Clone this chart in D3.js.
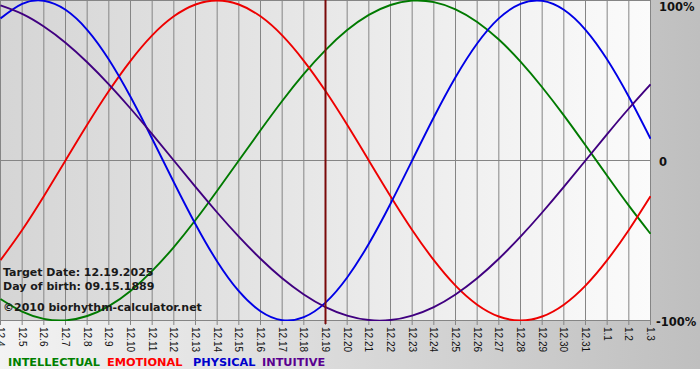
<!DOCTYPE html>
<html>
<head>
<meta charset="utf-8">
<script src="https://cdn.jsdelivr.net/npm/d3@7"></script>
<style>
  body { margin: 0; background: #fff; }
  svg { display: block; }
</style>
</head>
<body>
<script>
// day labels along the bottom (12.4 -> 1.3)
const dayLabels = ["12.4","12.5","12.6","12.7","12.8","12.9","12.10","12.11","12.12","12.13",
  "12.14","12.15","12.16","12.17","12.18","12.19","12.20","12.21","12.22","12.23","12.24",
  "12.25","12.26","12.27","12.28","12.29","12.30","12.31","1.1","1.2","1.3"];

// cycle values per day (-1 .. 1)
const physical = [0.888,0.979,0.998,0.942,0.817,0.631,0.398,0.136,-0.136,-0.398,-0.631,
  -0.817,-0.942,-0.998,-0.979,-0.888,-0.731,-0.520,-0.270,0,0.270,0.520,0.731,0.888,
  0.979,0.998,0.942,0.817,0.631,0.398,0.136];
const emotional = [-0.623,-0.434,-0.223,0,0.223,0.434,0.623,0.782,0.901,0.975,1,
  0.975,0.901,0.782,0.623,0.434,0.223,0,-0.223,-0.434,-0.623,-0.782,-0.901,-0.975,
  -1,-0.975,-0.901,-0.782,-0.623,-0.434,-0.223];
const intellectual = [-0.866,-0.945,-0.990,-0.999,-0.972,-0.910,-0.815,-0.690,-0.541,
  -0.372,-0.189,0,0.189,0.372,0.541,0.690,0.815,0.910,0.972,0.999,0.990,0.945,0.866,
  0.756,0.618,0.458,0.282,0.095,-0.095,-0.282,-0.458];
const intuitive = [0.969,0.916,0.837,0.736,0.614,0.476,0.325,0.165,0,-0.165,-0.325,
  -0.476,-0.614,-0.736,-0.837,-0.916,-0.969,-0.997,-0.997,-0.969,-0.916,-0.837,-0.736,
  -0.614,-0.476,-0.325,-0.165,0,0.165,0.325,0.476];

const targetDay = 15; // 12.19
const infoLines = ["Target Date: 12.19.2025", "Day of birth: 09.15.1889", "\u00a92010 biorhythm-calculator.net"];

// legend entries
const legendNames = ["INTELLECTUAL", "EMOTIONAL", "PHYSICAL", "INTUITIVE"];
const legendColors = ["#008000", "#ff0000", "#0000cc", "#5a0090"];

var svg_width = 700;
var svg_height = 380;
var plot_w = 650;
var plot_h = 320;

const svg = d3.select("body")
    .append("svg")
    .attr("width", svg_width)
    .attr("height", svg_height);

const defs = svg.append("defs");

// outer background gradient (light left -> grey right)
const outerGrad = defs.append("linearGradient").attr("id", "outerGrad");
outerGrad.append("stop").attr("offset", "0%").attr("stop-color", "#f3f3f3");
outerGrad.append("stop").attr("offset", "100%").attr("stop-color", "#bfbfbf");

// plot area gradient (grey left -> white right)
const plotGrad = defs.append("linearGradient").attr("id", "plotGrad");
plotGrad.append("stop").attr("offset", "0%").attr("stop-color", "#d5d5d5");
plotGrad.append("stop").attr("offset", "100%").attr("stop-color", "#fbfbfb");

defs.append("clipPath").attr("id", "plotClip")
    .append("rect").attr("x", 0).attr("y", 0).attr("width", plot_w + 1).attr("height", plot_h + 1);

svg.append("rect")
    .attr("width", svg_width).attr("height", 369)
    .attr("fill", "url(#outerGrad)");

const x = d3.scaleLinear().domain([0, dayLabels.length - 1]).range([0.5, plot_w + 0.5]);
const y = d3.scaleLinear().domain([-1, 1]).range([plot_h + 0.5, 0.5]);

svg.append("rect")
    .attr("x", 0).attr("y", 0)
    .attr("width", plot_w + 1).attr("height", plot_h + 1)
    .attr("fill", "url(#plotGrad)");

// vertical grid lines, running down past the axis as ticks
svg.append("g").selectAll("line")
    .data(d3.range(dayLabels.length))
    .enter().append("line")
    .attr("x1", d => x(d)).attr("x2", d => x(d))
    .attr("y1", 0).attr("y2", plot_h + 5)
    .attr("stroke", "#858585")
    .attr("stroke-width", 1);

// top, zero and bottom horizontal lines
svg.append("g").selectAll("line")
    .data([1, 0, -1])
    .enter().append("line")
    .attr("x1", 0).attr("x2", plot_w + 1)
    .attr("y1", d => y(d)).attr("y2", d => y(d))
    .attr("stroke", "#858585");

// day labels, rotated
svg.append("g").selectAll("text")
    .data(dayLabels)
    .enter().append("text")
    .attr("transform", (d, i) => `translate(${x(i)},${plot_h + 7}) rotate(90)`)
    .attr("dy", "0.35em")
    .attr("font-family", "Liberation Sans, Arial, sans-serif")
    .attr("font-size", "10px")
    .attr("fill", "#111")
    .text(d => d);

// right side percent labels
svg.append("g").selectAll("text")
    .data([[1, "100%"], [0, "0"], [-1, "-100%"]])
    .enter().append("text")
    .attr("x", d => d[0] === -1 ? 656 : 659)
    .attr("y", d => d[0] === 1 ? 11 : y(d[0]) + 5)
    .attr("font-family", "DejaVu Sans, Verdana, sans-serif")
    .attr("font-weight", "bold")
    .attr("font-size", "11.5px")
    .attr("fill", "#111")
    .text(d => d[1]);

// curves
const plot_g = svg.append("g").attr("clip-path", "url(#plotClip)");

const line = d3.line()
    .x((d, i) => x(i))
    .y(d => y(d))
    .curve(d3.curveNatural);

const series = [
    { values: intellectual, color: "#007a00" },
    { values: emotional, color: "#ee0000" },
    { values: physical, color: "#0000e6" },
    { values: intuitive, color: "#400080" }
];

plot_g.selectAll(".curve")
    .data(series)
    .enter().append("path")
    .attr("class", "curve")
    .attr("d", d => line(d.values))
    .attr("fill", "none")
    .attr("stroke", d => d.color)
    .attr("stroke-width", 1.9);

// target date marker
svg.append("line")
    .attr("x1", x(targetDay)).attr("x2", x(targetDay))
    .attr("y1", 0).attr("y2", plot_h + 4)
    .attr("stroke", "#7a0a0a")
    .attr("stroke-width", 2);

// info text
svg.append("g").selectAll("text")
    .data(infoLines)
    .enter().append("text")
    .attr("x", 3)
    .attr("y", (d, i) => [276, 290, 311][i])
    .attr("font-family", "DejaVu Sans, Verdana, sans-serif")
    .attr("font-weight", "bold")
    .attr("font-size", "11px")
    .attr("fill", "#1a1a1a")
    .text(d => d);

// legend
const legendX = [8, 107, 193, 262];
svg.append("g").selectAll("text")
    .data(legendNames)
    .enter().append("text")
    .attr("x", (d, i) => legendX[i])
    .attr("y", 366)
    .attr("font-family", "DejaVu Sans, Verdana, sans-serif")
    .attr("font-weight", "bold")
    .attr("font-size", "11.3px")
    .attr("fill", (d, i) => legendColors[i])
    .text(d => d);
</script>
</body>
</html>
